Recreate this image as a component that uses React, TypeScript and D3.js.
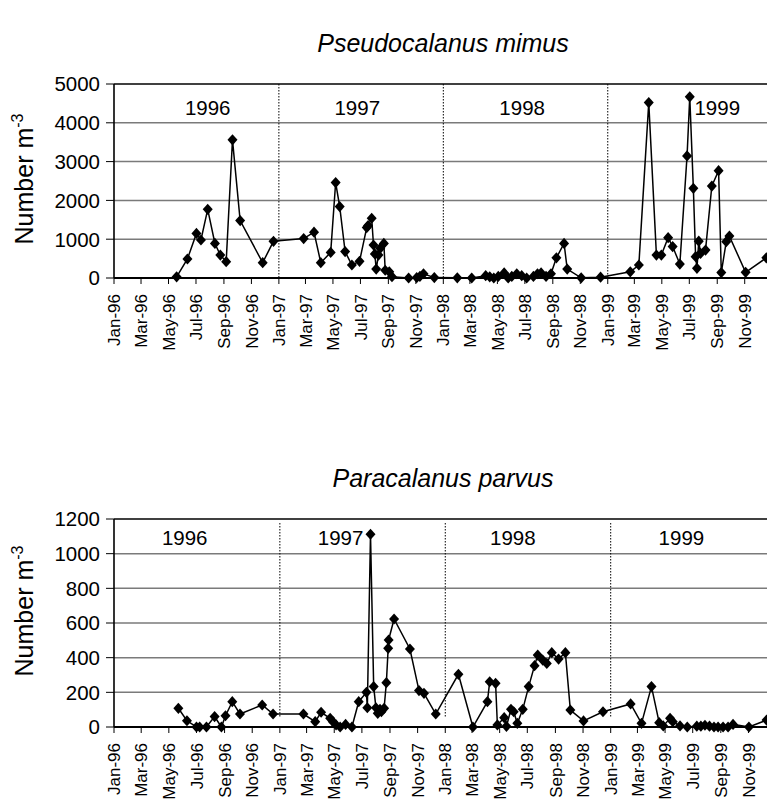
import React from "react"
import * as d3 from "d3"

// Pseudocalanus mimus (Number m-3)
const pseudoDates = [
  "1996-05-19", "1996-06-12", "1996-07-02", "1996-07-12", "1996-07-27", "1996-08-12", "1996-08-24",
  "1996-09-06", "1996-09-20", "1996-10-07", "1996-11-26", "1996-12-20",
  "1997-02-25", "1997-03-20", "1997-04-04", "1997-04-26", "1997-05-07", "1997-05-16", "1997-05-28",
  "1997-06-12", "1997-06-29", "1997-07-15", "1997-07-18", "1997-07-26", "1997-07-30", "1997-08-02",
  "1997-08-05", "1997-08-10", "1997-08-14", "1997-08-22", "1997-08-25", "1997-09-03", "1997-09-09",
  "1997-10-16", "1997-11-03", "1997-11-10", "1997-11-18", "1997-12-12",
  "1998-02-01", "1998-03-05", "1998-04-05", "1998-04-14", "1998-04-23", "1998-05-03", "1998-05-16",
  "1998-05-25", "1998-06-02", "1998-06-13", "1998-06-24", "1998-07-05", "1998-07-20", "1998-07-29",
  "1998-08-06", "1998-08-17", "1998-08-28", "1998-09-09", "1998-09-26", "1998-10-03", "1998-11-03",
  "1998-12-16",
  "1999-02-20", "1999-03-11", "1999-04-02", "1999-04-19", "1999-04-30", "1999-05-15", "1999-05-25",
  "1999-06-10", "1999-06-26", "1999-07-02", "1999-07-10", "1999-07-15", "1999-07-18", "1999-07-22",
  "1999-07-26", "1999-08-06", "1999-08-20", "1999-09-04", "1999-09-10", "1999-09-21", "1999-09-28",
  "1999-11-03", "1999-12-19",
]
const pseudoValues = [
  30, 490, 1150, 980, 1770, 890, 590,
  420, 3560, 1480, 395, 945,
  1015, 1180, 395, 660, 2460, 1840, 680,
  335, 430, 1300, 1350, 1540, 850, 620,
  230, 590, 765, 890, 200, 160, 35,
  0, 10, 40, 110, 10,
  5, 0, 60, 30, 0, 40, 130,
  0, 40, 110, 60, 0, 40, 110,
  130, 40, 110, 520, 890, 230, 5,
  20,
  160, 335, 4520, 590, 590, 1040, 810,
  360, 3145, 4670, 2310, 550, 250, 950,
  635, 720, 2370, 2765, 140, 935, 1080,
  145, 520,
]

// Paracalanus parvus (Number m-3)
const paraDates = [
  "1996-05-22", "1996-06-10", "1996-07-01", "1996-07-08", "1996-07-23", "1996-08-10", "1996-08-25",
  "1996-09-03", "1996-09-18", "1996-10-05", "1996-11-23", "1996-12-17",
  "1997-02-22", "1997-03-20", "1997-04-02", "1997-04-22", "1997-04-28", "1997-05-05", "1997-05-14",
  "1997-05-26", "1997-06-09", "1997-06-24", "1997-07-11", "1997-07-13", "1997-07-20", "1997-07-27",
  "1997-08-01", "1997-08-05", "1997-08-10", "1997-08-13", "1997-08-19", "1997-08-24", "1997-08-28",
  "1997-08-29", "1997-09-10", "1997-10-15", "1997-11-04", "1997-11-15", "1997-12-11",
  "1998-01-30", "1998-03-03", "1998-04-04", "1998-04-09", "1998-04-22", "1998-04-26", "1998-05-11",
  "1998-05-16", "1998-05-26", "1998-06-01", "1998-06-09", "1998-06-21", "1998-07-04", "1998-07-17",
  "1998-07-24", "1998-08-04", "1998-08-13", "1998-08-24", "1998-09-08", "1998-09-23", "1998-10-04",
  "1998-11-02", "1998-12-15",
  "1999-02-14", "1999-03-10", "1999-04-01", "1999-04-18", "1999-04-27", "1999-05-12", "1999-05-18",
  "1999-06-03", "1999-06-19", "1999-07-10", "1999-07-19", "1999-07-28", "1999-08-07", "1999-08-17",
  "1999-08-26", "1999-09-06", "1999-09-17", "1999-09-28", "1999-11-02", "1999-12-11",
]
const paraValues = [
  108, 36, 0, 0, 0, 60, 0,
  65, 146, 75, 127, 75,
  75, 31, 85, 50, 31, 12, 0,
  15, 0, 146, 200, 111, 1112, 233,
  111, 79, 102, 88, 108, 256, 454,
  502, 623, 450, 210, 194, 75,
  304, 0, 146, 261, 252, 12, 54,
  4, 102, 88, 21, 102, 233, 354,
  415, 386, 367, 429, 392, 429, 98,
  35, 88,
  133, 21, 233, 25, 6, 50, 31,
  6, 0, 5, 5, 10, 5, 0,
  0, 0, 0, 15, 0, 40,
]

const pseudoTicks = [0, 1000, 2000, 3000, 4000, 5000]
const paraTicks = [0, 200, 400, 600, 800, 1000, 1200]
const yearNames = ["1996", "1997", "1998", "1999"]
const pseudoYearAt = ["1996-07-27", "1997-06-24", "1998-06-25", "1999-09-01"]
const paraYearAt = ["1996-06-05", "1997-05-15", "1998-05-30", "1999-06-06"]
const yearBreaks = ["1997-01-01", "1998-01-01", "1999-01-01"]

const parse = d3.utcParse("%Y-%m-%d")
const fmt = d3.utcFormat("%b-%y")
const FONT = "'Liberation Sans', Arial, sans-serif"

const diamond = {
  draw(ctx: any, size: number) {
    const r = Math.sqrt(size) / 2
    ctx.moveTo(0, -r * 1.12)
    ctx.lineTo(r, 0)
    ctx.lineTo(0, r * 1.12)
    ctx.lineTo(-r, 0)
    ctx.closePath()
  },
}

interface PanelProps {
  title: string
  titleY: number
  top: number
  bottom: number
  xEnd: number
  ticks: number[]
  dates: string[]
  values: number[]
  yearAt: string[]
  yearY: number
  breakInset: [number, number]
  labelY: number
}

const Panel = ({ title, titleY, top, bottom, xEnd, ticks, dates, values, yearAt, yearY, breakInset, labelY }: PanelProps) => {
  const left = 114
  const x = d3
    .scaleUtc()
    .domain([parse("1996-01-01")!, parse("2000-01-01")!])
    .range([left, xEnd])
  const y = d3
    .scaleLinear()
    .domain([0, ticks[ticks.length - 1]])
    .range([bottom, top])

  const pts = dates.map((d, i) => ({ date: parse(d)!, v: values[i] }))
  const line = d3
    .line<{ date: Date; v: number }>()
    .x((d) => x(d.date))
    .y((d) => y(d.v))
  const sym = d3.symbol().type(diamond as any).size(100)()

  const xTicks = x.ticks(d3.utcMonth.every(2)!).filter((t) => t < parse("2000-01-01")!)

  return (
    <g fontFamily={FONT}>
      <text x={443} y={titleY} textAnchor="middle" fontSize={25} fontStyle="italic">
        {title}
      </text>

      {/* grid */}
      {ticks.slice(1, -1).map((t) => (
        <line key={t} x1={left} x2={800} y1={y(t)} y2={y(t)} stroke="#7a7a7a" strokeWidth={1.5} />
      ))}
      <line x1={left} x2={800} y1={top} y2={top} stroke="#000" strokeWidth={1.6} />

      {/* year dividers */}
      {yearBreaks.map((b) => (
        <line
          key={b}
          x1={x(parse(b)!)}
          x2={x(parse(b)!)}
          y1={top + breakInset[0]}
          y2={bottom - breakInset[1]}
          stroke="#000"
          strokeWidth={1}
          strokeDasharray="1.5,1.5"
        />
      ))}

      {yearNames.map((n, i) => (
        <text key={n} x={x(parse(yearAt[i])!)} y={yearY} textAnchor="middle" fontSize={20.5}>
          {n}
        </text>
      ))}

      {/* y axis */}
      <line x1={left} x2={left} y1={top} y2={bottom} stroke="#000" strokeWidth={1.6} />
      {ticks.map((t) => (
        <g key={t}>
          <line x1={left - 8} x2={left} y1={y(t)} y2={y(t)} stroke="#000" strokeWidth={1} />
          <text x={left - 14} y={y(t)} dy="0.36em" textAnchor="end" fontSize={20.5}>
            {t}
          </text>
        </g>
      ))}
      <text transform={`translate(33, ${labelY}) rotate(-90)`} textAnchor="middle" fontSize={25}>
        Number m
        <tspan fontSize={16} dy={-10}>
          -3
        </tspan>
      </text>

      {/* x axis */}
      <line x1={left} x2={800} y1={bottom} y2={bottom} stroke="#000" strokeWidth={1.8} />
      {xTicks.map((t) => (
        <g key={t.getTime()}>
          <line x1={x(t)} x2={x(t)} y1={bottom} y2={bottom + 6} stroke="#000" strokeWidth={1} />
          <text
            transform={`translate(${x(t)}, ${bottom + 16}) rotate(-90)`}
            dy="0.36em"
            textAnchor="end"
            fontSize={17}
          >
            {fmt(t)}
          </text>
        </g>
      ))}

      {/* series */}
      <path d={line(pts) ?? ""} fill="none" stroke="#000" strokeWidth={1.5} />
      {pts.map((p, i) => (
        <path key={i} d={sym ?? ""} transform={`translate(${x(p.date)}, ${y(p.v)})`} fill="#000" />
      ))}
    </g>
  )
}

export default function App() {
  return (
    <div style={{ position: "absolute", left: 0, top: 0, width: 767, height: 805, background: "#fff" }}>
      <svg width={767} height={805} style={{ display: "block" }}>
        <rect width={767} height={805} fill="#fff" />
        <Panel
          title="Pseudocalanus mimus"
          titleY={52}
          top={84}
          bottom={278}
          xEnd={772.2}
          ticks={pseudoTicks}
          dates={pseudoDates}
          values={pseudoValues}
          yearAt={pseudoYearAt}
          yearY={115}
          breakInset={[0, 1]}
          labelY={179}
        />
        <Panel
          title="Paracalanus parvus"
          titleY={487}
          top={519}
          bottom={727}
          xEnd={776.1}
          ticks={paraTicks}
          dates={paraDates}
          values={paraValues}
          yearAt={paraYearAt}
          yearY={545}
          breakInset={[4, 10]}
          labelY={611}
        />
      </svg>
    </div>
  )
}
